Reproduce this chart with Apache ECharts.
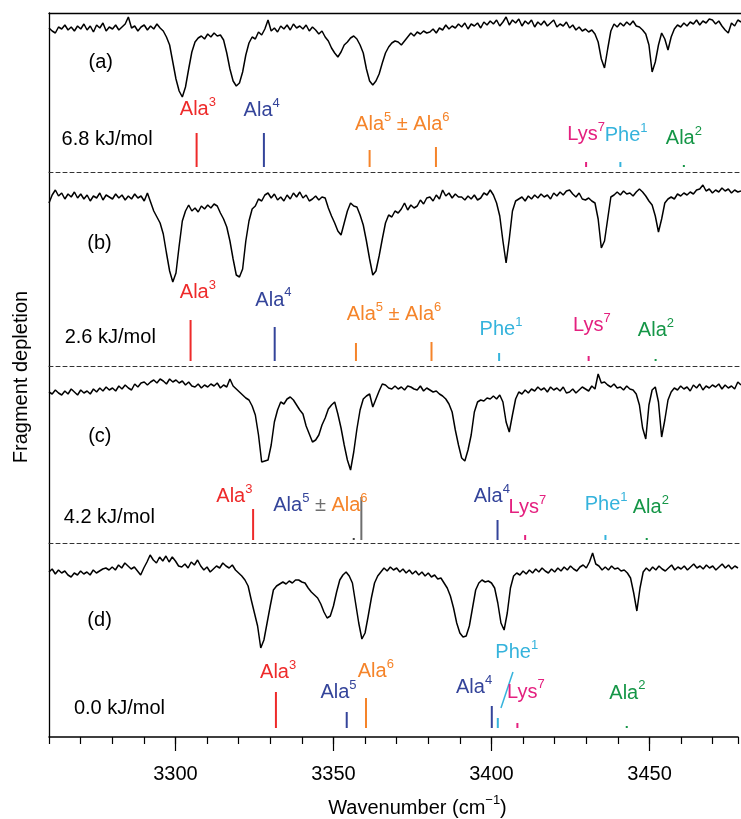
<!DOCTYPE html>
<html>
<head>
<meta charset="utf-8">
<script src="https://cdn.jsdelivr.net/npm/echarts@6.0.0/dist/echarts.min.js"></script>
<style>html,body{margin:0;padding:0;background:#fff;}#chart{width:741px;height:819px;}</style>
</head>
<body>
<div id="chart"></div>
<script>
// ---------- DATA ----------
const xStart = 3260, xEnd = 3478, xStep = 1;
const tickLabels = [3300, 3350, 3400, 3450];

// spectra (fragment depletion signal, 1 cm-1 sampling from 3260)
const specA = [
1.39,1.36,1.34,1.40,1.38,1.42,1.37,1.40,1.36,1.41,
1.38,1.43,1.37,1.41,1.35,1.42,1.39,1.44,1.36,1.40,
1.38,1.42,1.37,1.40,1.43,1.50,1.39,1.41,1.36,1.40,
1.42,1.37,1.41,1.38,1.43,1.39,1.36,1.30,1.22,1.05,
0.88,0.76,0.70,0.80,0.98,1.15,1.25,1.29,1.31,1.28,
1.33,1.30,1.34,1.31,1.32,1.27,1.14,0.98,0.86,0.81,
0.84,0.95,1.12,1.24,1.30,1.28,1.35,1.32,1.38,1.47,
1.36,1.39,1.35,1.41,1.38,1.42,1.37,1.43,1.39,1.41,
1.38,1.42,1.36,1.40,1.37,1.33,1.36,1.30,1.26,1.19,
1.14,1.10,1.15,1.22,1.25,1.29,1.31,1.28,1.22,1.14,
0.98,0.86,0.82,0.86,0.93,1.04,1.14,1.20,1.24,1.26,
1.25,1.22,1.26,1.30,1.34,1.31,1.35,1.33,1.36,1.34,
1.35,1.38,1.34,1.39,1.37,1.42,1.38,1.41,1.39,1.43,
1.40,1.44,1.38,1.43,1.41,1.44,1.39,1.45,1.42,1.46,
1.43,1.47,1.41,1.45,1.50,1.42,1.47,1.44,1.48,1.41,
1.46,1.43,1.47,1.40,1.45,1.42,1.46,1.41,1.44,1.47,
1.40,1.43,1.41,1.45,1.39,1.42,1.37,1.40,1.36,1.38,
1.35,1.37,1.33,1.25,1.08,0.99,1.18,1.36,1.43,1.40,
1.44,1.41,1.45,1.42,1.46,1.41,1.40,1.37,1.33,1.22,
0.95,1.05,1.22,1.34,1.28,1.17,1.30,1.38,1.42,1.40,
1.44,1.41,1.45,1.43,1.47,1.42,1.46,1.44,1.48,1.47,
1.43,1.46,1.41,1.37,1.34,1.44,1.41,1.47,1.45
];
const specB = [
1.58,1.66,1.71,1.65,1.68,1.62,1.67,1.64,1.69,1.63,
1.67,1.62,1.66,1.60,1.65,1.63,1.68,1.61,1.66,1.64,
1.62,1.67,1.63,1.66,1.61,1.65,1.62,1.67,1.63,1.65,
1.60,1.68,1.59,1.50,1.44,1.38,1.27,1.08,0.90,0.79,
0.88,1.15,1.40,1.50,1.56,1.50,1.53,1.49,1.55,1.52,
1.56,1.53,1.57,1.55,1.48,1.42,1.34,1.20,1.02,0.86,
0.84,0.92,1.20,1.40,1.52,1.55,1.62,1.60,1.66,1.68,
1.63,1.67,1.61,1.64,1.60,1.66,1.62,1.68,1.64,1.69,
1.63,1.66,1.60,1.62,1.65,1.61,1.64,1.63,1.53,1.45,
1.38,1.30,1.26,1.38,1.50,1.58,1.55,1.54,1.46,1.36,
1.20,1.02,0.86,0.90,1.05,1.22,1.38,1.46,1.44,1.50,
1.48,1.52,1.58,1.51,1.56,1.53,1.55,1.61,1.57,1.63,
1.64,1.60,1.66,1.62,1.71,1.65,1.68,1.63,1.67,1.64,
1.64,1.61,1.65,1.62,1.66,1.61,1.63,1.68,1.66,1.71,
1.66,1.58,1.45,1.20,0.98,1.22,1.50,1.60,1.62,1.64,
1.60,1.65,1.62,1.66,1.63,1.67,1.64,1.66,1.62,1.68,
1.65,1.69,1.66,1.70,1.71,1.67,1.64,1.68,1.62,1.61,
1.63,1.60,1.58,1.42,1.13,1.20,1.42,1.64,1.66,1.69,
1.66,1.70,1.67,1.68,1.65,1.69,1.72,1.69,1.65,1.60,
1.56,1.45,1.29,1.42,1.58,1.62,1.64,1.62,1.67,1.65,
1.68,1.66,1.69,1.67,1.71,1.72,1.76,1.70,1.72,1.68,
1.71,1.69,1.73,1.70,1.72,1.68,1.71,1.69,1.70
];
const specC = [
1.48,1.46,1.50,1.47,1.45,1.49,1.46,1.51,1.48,1.45,
1.50,1.47,1.49,1.46,1.51,1.48,1.52,1.49,1.53,1.50,
1.52,1.49,1.54,1.51,1.55,1.52,1.50,1.56,1.53,1.57,
1.58,1.55,1.58,1.60,1.57,1.61,1.59,1.56,1.61,1.58,
1.60,1.57,1.59,1.55,1.58,1.54,1.53,1.56,1.52,1.55,
1.53,1.56,1.54,1.57,1.52,1.55,1.53,1.61,1.54,1.51,
1.48,1.45,1.42,1.40,1.34,1.25,1.05,0.78,0.79,0.80,
0.95,1.18,1.30,1.38,1.36,1.41,1.43,1.40,1.35,1.30,
1.26,1.14,1.06,0.98,1.00,1.05,1.15,1.22,1.31,1.35,
1.38,1.26,1.12,0.95,0.80,0.70,0.88,1.11,1.30,1.41,
1.44,1.46,1.33,1.41,1.49,1.56,1.55,1.52,1.51,1.54,
1.51,1.53,1.50,1.54,1.53,1.51,1.50,1.54,1.49,1.52,
1.50,1.48,1.49,1.46,1.44,1.41,1.36,1.28,1.10,0.95,
0.82,0.79,0.90,1.05,1.28,1.38,1.40,1.39,1.42,1.41,
1.44,1.41,1.45,1.38,1.18,1.08,1.25,1.41,1.48,1.46,
1.50,1.47,1.51,1.49,1.53,1.50,1.52,1.48,1.53,1.50,
1.52,1.49,1.53,1.47,1.48,1.51,1.47,1.50,1.53,1.51,
1.49,1.54,1.51,1.66,1.57,1.58,1.55,1.53,1.56,1.52,
1.53,1.50,1.54,1.51,1.50,1.46,1.35,1.12,1.01,1.35,
1.50,1.53,1.38,1.03,1.20,1.40,1.48,1.52,1.50,1.54,
1.51,1.53,1.49,1.55,1.52,1.56,1.50,1.54,1.52,1.55,
1.53,1.56,1.51,1.55,1.52,1.54,1.51,1.58,1.55
];
const specD = [
1.56,1.59,1.54,1.58,1.55,1.57,1.53,1.51,1.55,1.53,
1.57,1.54,1.56,1.53,1.58,1.55,1.57,1.59,1.60,1.58,
1.61,1.58,1.63,1.60,1.65,1.62,1.59,1.61,1.57,1.53,
1.60,1.66,1.73,1.68,1.65,1.71,1.67,1.72,1.66,1.71,
1.67,1.62,1.61,1.64,1.60,1.66,1.63,1.68,1.62,1.58,
1.61,1.56,1.59,1.62,1.60,1.65,1.62,1.60,1.63,1.58,
1.55,1.52,1.48,1.42,1.28,1.15,1.02,0.80,0.88,1.05,
1.22,1.38,1.42,1.44,1.46,1.44,1.47,1.45,1.48,1.48,
1.46,1.45,1.40,1.36,1.33,1.30,1.24,1.16,1.10,1.12,
1.22,1.36,1.48,1.53,1.56,1.52,1.45,1.25,1.05,0.89,
0.95,1.12,1.30,1.45,1.52,1.56,1.60,1.57,1.61,1.58,
1.60,1.56,1.59,1.55,1.58,1.54,1.57,1.53,1.56,1.52,
1.55,1.51,1.53,1.49,1.50,1.45,1.40,1.32,1.20,1.05,
0.95,0.91,0.92,1.02,1.20,1.38,1.45,1.48,1.46,1.47,
1.45,1.40,1.25,1.05,0.98,1.15,1.40,1.52,1.55,1.53,
1.57,1.54,1.58,1.55,1.59,1.56,1.60,1.57,1.55,1.59,
1.56,1.60,1.57,1.61,1.58,1.62,1.59,1.57,1.61,1.63,
1.60,1.66,1.75,1.64,1.62,1.58,1.61,1.58,1.62,1.59,
1.60,1.57,1.58,1.55,1.50,1.35,1.17,1.40,1.56,1.60,
1.57,1.61,1.58,1.62,1.59,1.57,1.60,1.63,1.58,1.61,
1.59,1.62,1.58,1.61,1.64,1.60,1.62,1.59,1.63,1.60,
1.62,1.58,1.61,1.64,1.60,1.63,1.59,1.62,1.60
];

// computed stick spectra: [wavenumber, intensity, colour key]
const sticksA = [[3306.5,0.34,'r'],[3327.7,0.34,'b'],[3361.0,0.17,'o'],[3381.9,0.20,'o'],[3429.2,0.05,'p'],[3440.0,0.05,'c'],[3460.0,0.02,'g']];
const sticksB = [[3304.6,0.41,'r'],[3331.1,0.34,'b'],[3356.7,0.18,'o'],[3380.5,0.19,'o'],[3401.8,0.08,'c'],[3430.0,0.05,'p'],[3451.1,0.02,'g']];
const sticksC = [[3324.3,0.31,'r'],[3356.0,0.02,'d'],[3358.4,0.43,'k'],[3401.3,0.20,'b'],[3410.0,0.05,'p'],[3435.3,0.05,'c'],[3448.3,0.02,'g']];
const sticksD = [[3331.8,0.36,'r'],[3354.2,0.16,'b'],[3360.3,0.30,'o'],[3400.1,0.22,'b'],[3402.0,0.10,'c'],[3408.2,0.05,'p'],[3442.8,0.02,'g']];
const pheLeaderD = [[3403.0,0.20],[3406.8,0.56]];

// annotations: [wavenumber, level, pieces[[text, superscript, colour key]]]
const labelsA = [
  [3306.9,0.575,[['Ala','3','r']]],
  [3327.0,0.565,[['Ala','4','b']]],
  [3371.3,0.425,[['Ala','5','o'],[' ± ','','o'],['Ala','6','o']]],
  [3429.2,0.325,[['Lys','7','p']]],
  [3441.8,0.315,[['Phe','1','c']]],
  [3460.0,0.285,[['Ala','2','g']]]
];
const labelsB = [
  [3306.9,0.685,[['Ala','3','r']]],
  [3330.7,0.610,[['Ala','4','b']]],
  [3368.7,0.465,[['Ala','5','o'],[' ± ','','o'],['Ala','6','o']]],
  [3402.4,0.315,[['Phe','1','c']]],
  [3431.0,0.355,[['Lys','7','p']]],
  [3451.2,0.305,[['Ala','2','g']]]
];
const labelsC = [
  [3318.4,0.435,[['Ala','3','r']]],
  [3345.5,0.345,[['Ala','5','b'],[' ± ','','k'],['Ala','6','o']]],
  [3399.5,0.435,[['Ala','4','b']]],
  [3410.7,0.325,[['Lys','7','p']]],
  [3435.5,0.355,[['Phe','1','c']]],
  [3449.6,0.325,[['Ala','2','g']]]
];
const labelsD = [
  [3332.5,0.555,[['Ala','3','r']]],
  [3351.6,0.355,[['Ala','5','b']]],
  [3363.4,0.565,[['Ala','6','o']]],
  [3394.5,0.405,[['Ala','4','b']]],
  [3408.0,0.755,[['Phe','1','c']]],
  [3410.9,0.360,[['Lys','7','p']]],
  [3443.0,0.350,[['Ala','2','g']]]
];
const panelNames = ['(a)','(b)','(c)','(d)'];
const panelNamePos = [[3276.3,1.05],[3275.9,1.18],[3276.0,1.04],[3276.0,1.08]];
const energies = ['6.8 kJ/mol','2.6 kJ/mol','4.2 kJ/mol','0.0 kJ/mol'];
const energyPos = [[3278.3,0.275],[3279.3,0.24],[3279.0,0.225],[3282.3,0.195]];

// ---------- LAYOUT / STYLE ----------
const FF = "'Liberation Sans', Arial, Helvetica, sans-serif";
const colors = {r:'#ee2a2a', b:'#34449a', o:'#f5842a', p:'#e4207f', c:'#35b3dc', g:'#159647', k:'#6e6e6e', d:'#444444'};
const grids = [
  {left:49, right:0, top:13,  height:159},
  {left:49, right:0, top:172, height:194},
  {left:49, right:0, top:366, height:177},
  {left:49, right:0, top:543, height:194}
];
const yRanges = [[-0.05,1.54],[-0.05,1.89],[-0.03,1.74],[-0.09,1.85]];

const rich = {t:{fontSize:20,color:'#000',lineHeight:28,fontFamily:FF,opacity:1}};
for (const k in colors) {
  rich[k] = {fontSize:20,color:colors[k],lineHeight:28,fontFamily:FF,opacity:1};
  rich[k+'s'] = {fontSize:13,color:colors[k],lineHeight:13,verticalAlign:'top',fontFamily:FF,opacity:1};
}
function fmt(pieces){
  return pieces.map(([t,s,k]) => '{'+k+'|'+t+'}' + (s ? '{'+k+'s|'+s+'}' : '')).join('');
}

const xAxes = [];
const xIdx = [];
grids.forEach((g,i)=>{
  if (i < 3) {
    xIdx.push(xAxes.length);
    xAxes.push({gridIndex:i,type:'value',min:xStart,max:xEnd,position:'bottom',
      axisLine:{show:true,onZero:false,lineStyle:{color:'#333',width:1,type:[4,3]}},
      axisTick:{show:false},axisLabel:{show:false},splitLine:{show:false}});
    if (i === 0) {
      xAxes.push({gridIndex:0,type:'value',min:xStart,max:xEnd,position:'top',
        axisLine:{show:true,onZero:false,lineStyle:{color:'#000',width:1.4}},
        axisTick:{show:false},axisLabel:{show:false},splitLine:{show:false}});
    }
  } else {
    xIdx.push(xAxes.length);
    xAxes.push({gridIndex:3,type:'value',min:xStart,max:xEnd,interval:10,position:'bottom',
      axisLine:{show:true,onZero:false,lineStyle:{color:'#000',width:1.5}},
      axisTick:{show:true,length:7,lineStyle:{color:'#000',width:1.2}},
      axisLabel:{show:true,margin:27,fontSize:20,color:'#000',fontFamily:FF,
        formatter:(v)=> tickLabels.includes(v) ? String(v) : ''},
      splitLine:{show:false},
      name:'{n|Wavenumber (cm}{s|−1}{n|)}',nameLocation:'middle',nameGap:57,
      nameTextStyle:{padding:[0,0,0,48],rich:{
        n:{fontSize:20,color:'#000',lineHeight:28,fontFamily:FF},
        s:{fontSize:13,color:'#000',lineHeight:13,verticalAlign:'top',fontFamily:FF}}}});
    xAxes.push({gridIndex:3,type:'value',min:xStart,max:xEnd,position:'bottom',
      axisLine:{show:false,onZero:false},
      axisTick:{show:true,length:14,customValues:tickLabels,lineStyle:{color:'#000',width:1.2}},
      axisLabel:{show:false},splitLine:{show:false}});
  }
});

const yAxes = grids.map((g,i)=>({gridIndex:i,type:'value',min:yRanges[i][0],max:yRanges[i][1],
  axisLine:{show:true,onZero:false,lineStyle:{color:'#000',width:1.3}},
  axisTick:{show:false},axisLabel:{show:false},splitLine:{show:false}}));

const spectra = [specA,specB,specC,specD];
const sticks = [sticksA,sticksB,sticksC,sticksD];
const labels = [labelsA,labelsB,labelsC,labelsD];

const series = [];
spectra.forEach((sp,i)=>{
  series.push({type:'line',xAxisIndex:xIdx[i],yAxisIndex:i,showSymbol:false,symbol:'none',
    lineStyle:{color:'#000',width:1.5},z:3,animation:false,
    data: sp.map((v,j)=>[xStart + j*xStep, v])});
  series.push({type:'bar',xAxisIndex:xIdx[i],yAxisIndex:i,barWidth:2,animation:false,z:2,
    data: sticks[i].map(([w,h,k])=>({value:[w,h],itemStyle:{color:colors[k]}}))});
  const items = labels[i].map(([w,v,p])=>({value:[w,v],label:{formatter:fmt(p)}}));
  items.push({value:panelNamePos[i],label:{formatter:'{t|'+panelNames[i]+'}'}});
  items.push({value:energyPos[i],label:{formatter:'{t|'+energies[i]+'}'}});
  series.push({type:'scatter',xAxisIndex:xIdx[i],yAxisIndex:i,symbolSize:1,animation:false,silent:true,z:5,
    itemStyle:{color:'rgba(0,0,0,0)',opacity:1},
    label:{show:true,position:'inside',align:'center',verticalAlign:'middle',opacity:1,rich:rich},
    data: items});
});
series.push({type:'line',xAxisIndex:xIdx[3],yAxisIndex:3,showSymbol:false,symbol:'none',animation:false,
  lineStyle:{color:colors.c,width:1.5},data:pheLeaderD});

const chart = echarts.init(document.getElementById('chart'),null,{renderer:'canvas'});
chart.setOption({
  animation:false,
  backgroundColor:'#fff',
  grid: grids,
  xAxis: xAxes,
  yAxis: yAxes,
  series: series,
  graphic:[{type:'text',x:21,y:377,rotation:Math.PI/2,
    style:{text:'Fragment depletion',fontSize:20,fontFamily:FF,fill:'#000',align:'center',verticalAlign:'middle'}}]
});
</script>
</body>
</html>
